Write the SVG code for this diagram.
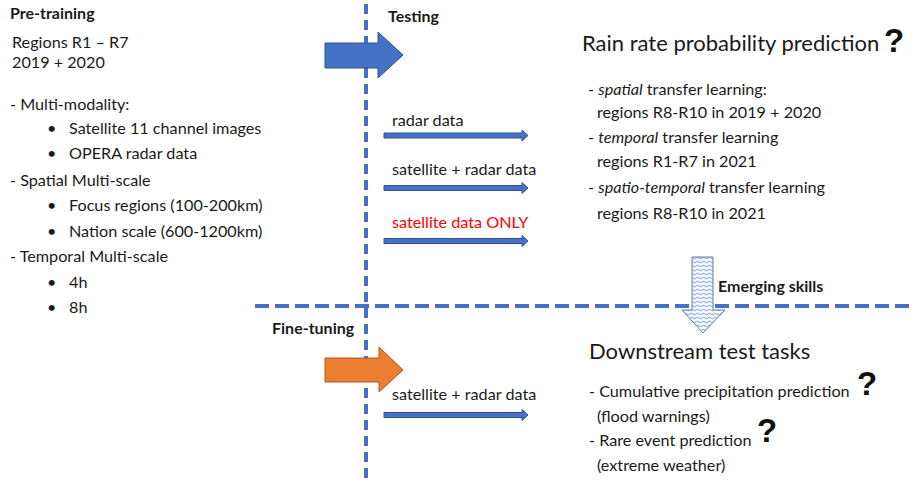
<svg xmlns="http://www.w3.org/2000/svg" width="912" height="480" viewBox="0 0 912 480">
<defs>
<style>
text{font-family:Lato,"Open Sans","Liberation Sans",sans-serif;fill:#1a1a1a}
.b{font-weight:bold;font-size:16px}
.t{font-size:16.2px}
.h{font-size:22px}
.q{font-family:"Liberation Sans",sans-serif;font-weight:bold;font-size:33px;fill:#111}
.it{font-style:italic}
.dash{stroke:#4472C4;stroke-width:4;fill:none}
.thin{fill:#4472C4;stroke:#2F528F;stroke-width:1}
</style>
<pattern id="wave" width="6" height="4" patternUnits="userSpaceOnUse">
<rect width="6" height="4" fill="#f4f8fd"/>
<path d="M0 2 Q1.5 0.5 3 2 T6 2" fill="none" stroke="#4a78c8" stroke-width="0.7"/>
</pattern>
</defs>
<rect width="912" height="480" fill="#fff"/>

<g id="connectors">
<line class="dash" x1="366" y1="4" x2="366" y2="480" stroke-dasharray="10 6"/>
<line class="dash" x1="255" y1="306" x2="912" y2="306" stroke-dasharray="14 6"/>
<path class="thin" d="M384 133 H522 V130 L528 135.5 L522 141 V138 H384 Z"/>
<path class="thin" d="M384 185.5 H522 V182.5 L528 188 L522 193.5 V190.5 H384 Z"/>
<path class="thin" d="M384 238.5 H522 V235.5 L528 241 L522 246.5 V243.5 H384 Z"/>
<path class="thin" d="M384 412.5 H522 V409.5 L528 415 L522 420.5 V417.5 H384 Z"/>
</g>

<g id="pretraining">
<text class="b" x="10" y="19">Pre-training</text>
<text class="t" x="12" y="48">Regions R1 – R7</text>
<text class="t" x="12" y="68">2019 + 2020</text>
<text class="t" x="10" y="110">- Multi-modality:</text>
<text class="t" x="47" y="134">•</text><text class="t" x="69" y="134">Satellite 11 channel images</text>
<text class="t" x="47" y="159">•</text><text class="t" x="69" y="159">OPERA radar data</text>
<text class="t" x="10" y="186">- Spatial Multi-scale</text>
<text class="t" x="47" y="211">•</text><text class="t" x="69" y="211">Focus regions (100-200km)</text>
<text class="t" x="47" y="237">•</text><text class="t" x="69" y="237">Nation scale (600-1200km)</text>
<text class="t" x="10" y="262">- Temporal Multi-scale</text>
<text class="t" x="47" y="288">•</text><text class="t" x="69" y="288">4h</text>
<text class="t" x="47" y="313">•</text><text class="t" x="69" y="313">8h</text>
</g>

<g id="testing-arrow">
<path d="M325 43 H378 V32 L403 55 L378 78 V68 H325 Z" fill="#4472C4" stroke="#2F528F" stroke-width="1"/>
<text class="b" x="388" y="22">Testing</text>
</g>

<g id="finetune-arrow">
<path d="M325 358 H379 V347 L403 370 L379 392 V382 H325 Z" fill="#ED7D31" stroke="#AE5A21" stroke-width="1"/>
<text class="b" x="272" y="334">Fine-tuning</text>
</g>

<g id="labels">
<text class="t" x="392" y="126">radar data</text>
<text class="t" x="392" y="175">satellite + radar data</text>
<text class="t" x="392" y="228" style="fill:#FF0000">satellite data ONLY</text>
<text class="t" x="392" y="400">satellite + radar data</text>
</g>

<g id="rain-rate">
<text class="h" x="582" y="51">Rain rate probability prediction</text>
<text class="q" x="884" y="52">?</text>
<text class="t" x="588" y="95">- <tspan class="it">spatial</tspan> transfer learning:</text>
<text class="t" x="597" y="118">regions R8-R10 in 2019 + 2020</text>
<text class="t" x="588" y="143">- <tspan class="it">temporal</tspan> transfer learning</text>
<text class="t" x="597" y="167">regions R1-R7 in 2021</text>
<text class="t" x="588" y="193">- <tspan class="it">spatio-temporal</tspan> transfer learning</text>
<text class="t" x="597" y="219">regions R8-R10 in 2021</text>
</g>

<g id="emerging">
<path d="M692 257 H713 V310 H725 L703 333 L682 310 H692 Z" fill="url(#wave)" stroke="#5b7bb5" stroke-width="1"/>
<text class="b" x="718" y="292">Emerging skills</text>
</g>

<g id="downstream">
<text class="h" x="589" y="359">Downstream test tasks</text>
<text class="t" x="589" y="397">- Cumulative precipitation prediction</text>
<text class="q" x="857" y="395">?</text>
<text class="t" x="597" y="422">(flood warnings)</text>
<text class="t" x="589" y="446">- Rare event prediction</text>
<text class="q" x="757" y="442">?</text>
<text class="t" x="597" y="471">(extreme weather)</text>
</g>
</svg>
